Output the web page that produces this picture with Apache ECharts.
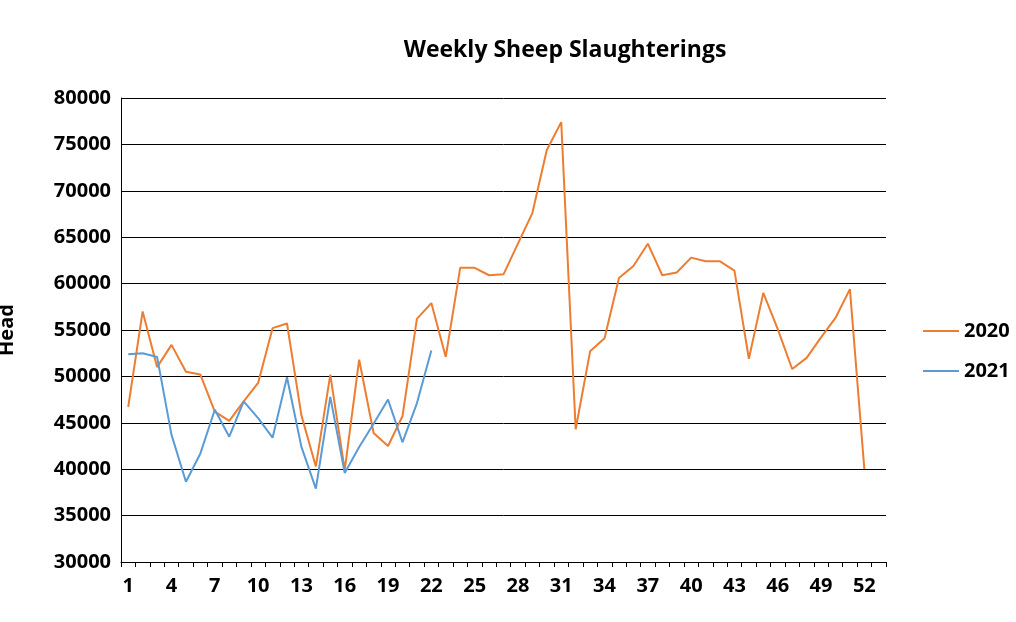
<!DOCTYPE html>
<html>
  <head>
    <meta charset="utf-8">
    <title>Weekly Sheep Slaughterings</title>
    <style>
    html,body,#chart { margin: 0; padding: 0; width: 1016px; height: 622px; background: #fff; }
    </style>
  </head>
  <body>
    <div id="chart"></div>
    <script src="https://cdn.jsdelivr.net/npm/echarts@6/dist/echarts.min.js"></script>
    <script type="text/javascript">
    var weeks = []
    for (var w = 1; w <= 53; w++) weeks.push(String(w))

    var y2020 = [46700, 57000, 51000, 53400, 50500, 50200, 46200, 45200, 47300, 49300,
                 55200, 55700, 45800, 40300, 50200, 39900, 51800, 43900, 42500, 45700,
                 56200, 57900, 52100, 61700, 61700, 60900, 61000, 64300, 67600, 74400,
                 77400, 44300, 52700, 54100, 60600, 61900, 64300, 60900, 61200, 62800,
                 62400, 62400, 61400, 51900, 59000, 55100, 50800, 52000, 54200, 56300,
                 59400, 40000]
    var y2021 = [52400, 52500, 52100, 43700, 38650, 41700, 46400, 43500, 47300, 45500,
                 43400, 49900, 42400, 37900, 47800, 39600, 42400, 44900, 47500, 42900,
                 47100, 52800]

    var font = 'Open Sans'
    var chart = echarts.init(document.getElementById('chart'))
    chart.setOption({
      animation: false,
      title: {
        text: 'Weekly Sheep Slaughterings',
        left: 560, top: 34, textAlign: 'center',
        textStyle: { fontFamily: font, fontSize: 23, fontWeight: 'bold', color: '#000' }
      },
      legend: {
        orient: 'vertical', left: 918, top: 316, itemGap: 20,
        itemWidth: 36, itemHeight: 2, icon: 'rect',
        textStyle: { fontFamily: font, fontSize: 20, fontWeight: 'bold', color: '#000' },
        data: ['2020', '2021']
      },
      grid: { left: 121, right: 130, top: 98, bottom: 60, containLabel: false, outerBoundsMode: 'none' },
      xAxis: {
        type: 'category', data: weeks, boundaryGap: true,
        axisLine: { lineStyle: { color: '#000' } },
        axisTick: { show: true, interval: 0, lineStyle: { color: '#000' } },
        axisLabel: { interval: 2, fontFamily: font, fontSize: 20, fontWeight: 'bold', color: '#000', margin: 14 }
      },
      yAxis: {
        type: 'value', min: 30000, max: 80000, interval: 5000,
        name: 'Head', nameLocation: 'middle', nameGap: 104,
        nameTextStyle: { fontFamily: font, fontSize: 20, fontWeight: 'bold', color: '#000' },
        axisLine: { show: true, lineStyle: { color: '#000' } },
        axisTick: { show: false },
        splitLine: { lineStyle: { color: '#000', width: 1 } },
        axisLabel: { fontFamily: font, fontSize: 20, fontWeight: 'bold', color: '#000', margin: 10,
          formatter: function (v) { return String(v) } }
      },
      series: [
        { name: '2020', type: 'line', data: y2020, showSymbol: false, symbol: 'none',
          lineStyle: { color: '#ED7D31', width: 2 }, itemStyle: { color: '#ED7D31' } },
        { name: '2021', type: 'line', data: y2021, showSymbol: false, symbol: 'none',
          lineStyle: { color: '#5B9BD5', width: 2 }, itemStyle: { color: '#5B9BD5' } }
      ]
    })
    </script>
  </body>
</html>
